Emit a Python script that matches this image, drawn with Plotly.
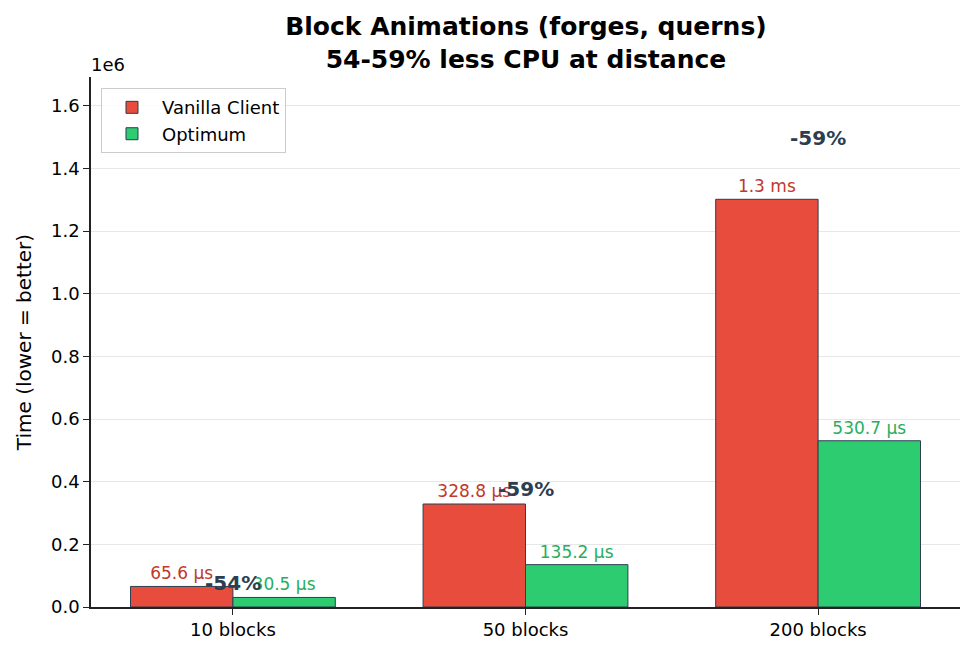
import plotly.graph_objects as go

# benchmark times in ns
categories = ["10 blocks", "50 blocks", "200 blocks"]
vanilla = [65600, 328800, 1301500]
optimum = [30500, 135200, 530700]
vanilla_labels = ["65.6 µs", "328.8 µs", "1.3 ms"]
optimum_labels = ["30.5 µs", "135.2 µs", "530.7 µs"]
reduction = ["-54%", "-59%", "-59%"]

y_ticks = [0, 200000, 400000, 600000, 800000, 1000000, 1200000, 1400000, 1600000]
y_tick_text = ["0.0", "0.2", "0.4", "0.6", "0.8", "1.0", "1.2", "1.4", "1.6"]

FONT = "DejaVu Sans"
DARK = "#2c3e50"

fig = go.Figure()

fig.add_trace(go.Bar(
    x=categories, y=vanilla, name="Vanilla Client",
    marker=dict(color="#e74c3c", line=dict(color=DARK, width=1)),
    text=vanilla_labels, textposition="outside", constraintext="none",
    textfont=dict(family=FONT, size=17, color="#c0392b"),
    cliponaxis=False,
))
fig.add_trace(go.Bar(
    x=categories, y=optimum, name="Optimum",
    marker=dict(color="#2ecc71", line=dict(color=DARK, width=1)),
    text=optimum_labels, textposition="outside", constraintext="none",
    textfont=dict(family=FONT, size=17, color="#27ae60"),
    cliponaxis=False,
))

# reduction labels above each group
for cat, v, o, pct in zip(categories, vanilla, optimum, reduction):
    fig.add_annotation(
        x=cat, y=max(v, o) * 1.15, text="<b>%s</b>" % pct, showarrow=False,
        xanchor="center", yanchor="middle",
        font=dict(family=FONT, size=20, color=DARK),
    )

# matplotlib-style offset text
fig.add_annotation(
    xref="paper", yref="paper", x=0, y=1, text="1e6", showarrow=False,
    xanchor="left", yanchor="bottom", xshift=-2, yshift=0,
    font=dict(family=FONT, size=18, color="black"),
)

fig.update_layout(
    width=974, height=656,
    margin=dict(l=91, r=14, t=77, b=49),
    plot_bgcolor="white", paper_bgcolor="white",
    barmode="group", bargap=0.3, bargroupgap=0,
    font=dict(family=FONT, size=18, color="black"),
    title=dict(
        text="<b>Block Animations (forges, querns)<br>54-59% less CPU at distance</b>",
        x=0.54, xanchor="center", y=0.946, yanchor="top", yref="container",
        font=dict(family=FONT, size=25, color="black"),
    ),
    legend=dict(
        x=0.0115, y=0.979, xanchor="left", yanchor="top",
        bgcolor="rgba(255,255,255,0.8)", bordercolor="#cccccc", borderwidth=1,
        itemwidth=50, tracegroupgap=4,
        font=dict(family=FONT, size=18),
    ),
    xaxis=dict(
        type="category", range=[-0.485, 2.485], automargin=False,
        showline=True, linecolor="#222222", linewidth=1.5,
        ticks="outside", ticklen=6, tickcolor="#222222",
        showgrid=False, layer="above traces",
        tickfont=dict(family=FONT, size=18),
    ),
    yaxis=dict(
        range=[0, 1301500 * 1.3], automargin=False,
        tickvals=y_ticks, ticktext=y_tick_text,
        showline=True, linecolor="#222222", linewidth=1.5,
        ticks="outside", ticklen=6, tickcolor="#222222",
        showgrid=True, gridcolor="rgba(176,176,176,0.3)", gridwidth=1,
        zeroline=False, layer="above traces",
        tickfont=dict(family=FONT, size=18),
        title=dict(text="Time (lower = better)", standoff=14,
                   font=dict(family=FONT, size=20)),
    ),
)

# drop the default page margin so the figure sits at the window corner
fig.write_html("out.html", config={"displayModeBar": False},
               post_script="document.body.style.margin='0';")
